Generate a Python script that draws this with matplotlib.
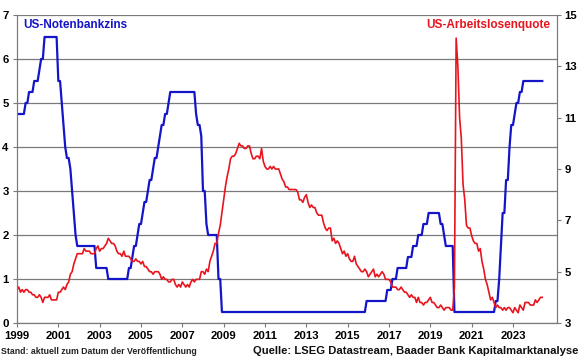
import matplotlib
matplotlib.use('Agg')
import matplotlib.pyplot as plt
import numpy as np

plt.rcParams['font.family'] = ['Liberation Sans', 'DejaVu Sans']

# Fed funds target (upper bound), monthly from Jan 1999, as level / number of months
fed_levels = [4.75, 5.0, 5.25, 5.5, 5.75, 6.0, 6.5,
              5.5, 5.0, 4.5, 4.0, 3.75, 3.5, 3.0, 2.5, 2.0, 1.75,
              1.25, 1.0, 1.25, 1.5, 1.75, 2.0, 2.25, 2.5, 2.75, 3.0, 3.25, 3.5, 3.75, 4.0, 4.25,
              4.5, 4.75, 5.0, 5.25, 4.75, 4.5, 4.25, 3.0, 2.25, 2.0, 1.0, 0.25,
              0.5, 0.75, 1.0, 1.25, 1.5, 1.75, 2.0, 2.25, 2.5, 2.25, 2.0, 1.75, 0.25,
              0.5, 1.0, 1.75, 2.5, 3.25, 4.0, 4.5, 4.75, 5.0, 5.25, 5.5]
fed_months = [5, 2, 3, 3, 1, 2, 8,
              2, 1, 1, 1, 2, 1, 1, 1, 1, 11,
              7, 12, 2, 1, 2, 1, 2, 1, 2, 1, 2, 1, 2, 1, 1,
              2, 2, 1, 15, 1, 2, 1, 2, 1, 6, 2, 84,
              12, 3, 3, 6, 3, 3, 3, 3, 7, 2, 1, 5, 24,
              2, 1, 1, 2, 2, 1, 2, 1, 2, 2, 12]

# US unemployment rate, monthly Jan 1999 - Jun 2024
unemp = [4.3, 4.4, 4.2, 4.3, 4.2, 4.3, 4.3, 4.2, 4.2, 4.1, 4.1, 4.0,
         4.0, 4.1, 4.0, 3.8, 4.0, 4.0, 4.0, 4.1, 3.9, 3.9, 3.9, 3.9,
         4.2, 4.2, 4.3, 4.4, 4.3, 4.5, 4.6, 4.9, 5.0, 5.3, 5.5, 5.7,
         5.7, 5.7, 5.7, 5.9, 5.8, 5.8, 5.8, 5.7, 5.7, 5.7, 5.9, 6.0,
         5.8, 5.9, 5.9, 6.0, 6.1, 6.3, 6.2, 6.1, 6.1, 6.0, 5.8, 5.7,
         5.7, 5.6, 5.8, 5.6, 5.6, 5.6, 5.5, 5.4, 5.4, 5.5, 5.4, 5.4,
         5.3, 5.4, 5.2, 5.2, 5.1, 5.0, 5.0, 4.9, 5.0, 5.0, 5.0, 4.9,
         4.7, 4.8, 4.7, 4.7, 4.6, 4.6, 4.7, 4.7, 4.5, 4.4, 4.5, 4.4,
         4.6, 4.5, 4.4, 4.5, 4.4, 4.6, 4.7, 4.6, 4.7, 4.7, 4.7, 5.0,
         5.0, 4.9, 5.1, 5.0, 5.4, 5.6, 5.8, 6.1, 6.1, 6.5, 6.8, 7.3,
         7.8, 8.3, 8.7, 9.0, 9.4, 9.5, 9.5, 9.6, 9.8, 10.0, 9.9, 9.9,
         9.8, 9.8, 9.9, 9.9, 9.6, 9.4, 9.4, 9.5, 9.5, 9.4, 9.8, 9.3,
         9.1, 9.0, 9.0, 9.1, 9.0, 9.1, 9.0, 9.0, 9.0, 8.8, 8.6, 8.5,
         8.3, 8.3, 8.2, 8.2, 8.2, 8.2, 8.2, 8.1, 7.8, 7.8, 7.7, 7.9,
         8.0, 7.7, 7.5, 7.6, 7.5, 7.5, 7.3, 7.2, 7.2, 7.2, 6.9, 6.7,
         6.6, 6.7, 6.7, 6.2, 6.3, 6.1, 6.2, 6.1, 5.9, 5.7, 5.8, 5.6,
         5.7, 5.5, 5.4, 5.4, 5.6, 5.3, 5.2, 5.1, 5.0, 5.0, 5.1, 5.0,
         4.8, 4.9, 5.0, 5.1, 4.8, 4.9, 4.8, 4.9, 5.0, 4.9, 4.7, 4.7,
         4.7, 4.6, 4.4, 4.4, 4.4, 4.3, 4.3, 4.4, 4.3, 4.2, 4.2, 4.1,
         4.0, 4.1, 4.0, 4.0, 3.8, 4.0, 3.8, 3.8, 3.7, 3.8, 3.8, 3.9,
         4.0, 3.8, 3.8, 3.7, 3.6, 3.6, 3.7, 3.6, 3.5, 3.6, 3.6, 3.6,
         3.5, 3.5, 4.4, 14.1, 13.0, 11.0, 10.2, 8.4, 7.8, 6.8, 6.7, 6.7,
         6.4, 6.2, 6.1, 6.1, 5.8, 5.9, 5.4, 5.1, 4.7, 4.5, 4.2, 3.9,
         4.0, 3.8, 3.6, 3.7, 3.6, 3.6, 3.5, 3.6, 3.5, 3.6, 3.6, 3.5,
         3.4, 3.6, 3.5, 3.4, 3.7, 3.6, 3.5, 3.8, 3.8, 3.8, 3.7, 3.7,
         3.7, 3.9, 3.8, 3.9, 4.0, 4.0]

fed = np.repeat(fed_levels, fed_months)
t = 1999 + np.arange(len(unemp)) / 12
years = list(range(1999, 2024, 2))

blue = '#1414c8'
red = '#e8141e'
grey = '#7a7a7a'

fig = plt.figure(figsize=(5.8, 3.58), dpi=100)
ax = fig.add_axes([17/580, 1 - 323/358, 540/580, 308/358])
ax2 = ax.twinx()

ax.plot(t, fed, color=blue, lw=1.6, zorder=3)
ax2.plot(t, unemp, color=red, lw=1.2)

ax.set_xlim(1999, 2025.13)
ax.set_ylim(0, 7)
ax2.set_ylim(3, 15)
ax.set_yticks(range(0, 8))
ax2.set_yticks(range(3, 16, 2))
ax.set_xticks(years)
ax.set_xticklabels([str(y) for y in years])
ax.grid(axis='y', color=grey, lw=0.9)
ax.set_axisbelow(True)

for a in (ax, ax2):
    a.spines['top'].set_visible(False)
    for s in ('left', 'right', 'bottom'):
        a.spines[s].set_color(grey)
    a.tick_params(labelsize=8.2, length=3, width=0.8, color=grey, pad=1.5)
for lab in ax.get_xticklabels() + ax.get_yticklabels() + ax2.get_yticklabels():
    lab.set_fontweight('bold')
ax.tick_params(axis='y', pad=3)
ax2.tick_params(axis='y', pad=2.5)
ax.tick_params(axis='x', pad=3)

fig.text(23/580, 1 - 25/358, 'US-Notenbankzins', color=blue, fontsize=8.5,
         fontweight='bold', va='center', ha='left')
fig.text(550/580, 1 - 25/358, 'US-Arbeitslosenquote', color=red, fontsize=8.5,
         fontweight='bold', va='center', ha='right')
fig.text(1/580, 1 - 351/358, 'Stand: aktuell zum Datum der Veröffentlichung',
         fontsize=6.3, fontweight='bold', color='#222222', va='center', ha='left')
fig.text(578/580, 1 - 351/358, 'Quelle: LSEG Datastream, Baader Bank Kapitalmarktanalyse',
         fontsize=8.1, fontweight='bold', color='#111111', va='center', ha='right')

fig.savefig('out.png', dpi=100)
